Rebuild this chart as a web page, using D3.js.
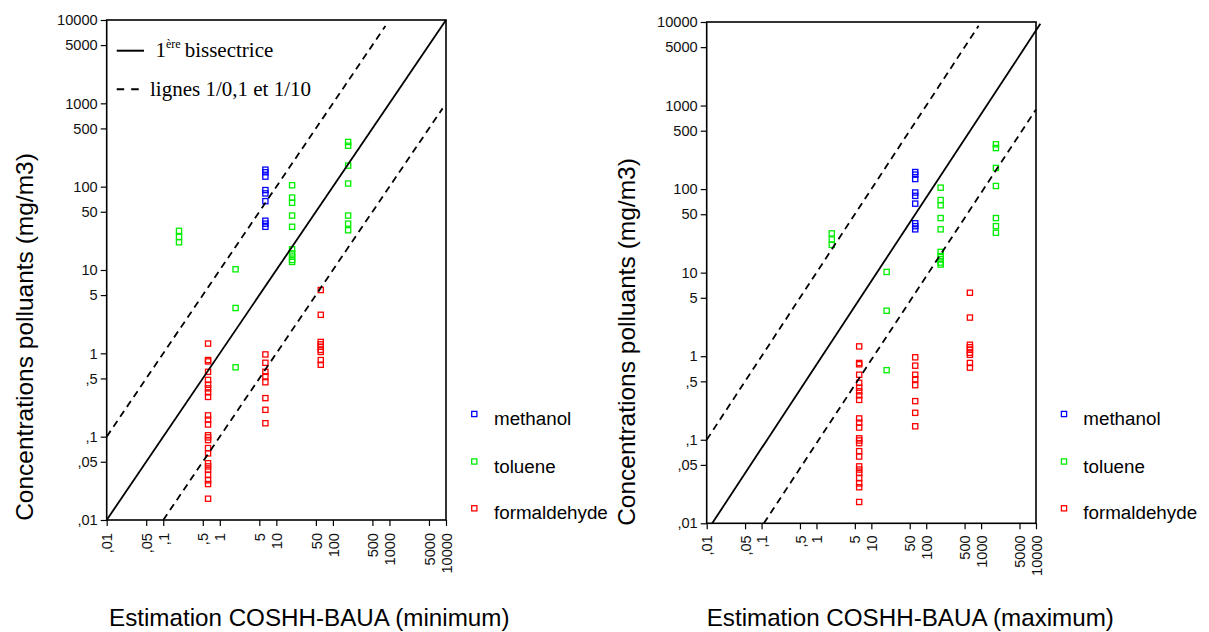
<!DOCTYPE html>
<html><head><meta charset="utf-8">
<script src="https://cdn.jsdelivr.net/npm/d3@7"></script>
<style>
html,body{margin:0;padding:0;background:#fff;}
svg{display:block;}
</style></head>
<body>
<svg id="chart" width="1209" height="632"></svg>
<script>
// ---- data ----
const seriesNames = ["methanol", "toluene", "formaldehyde"];
const seriesColors = ["#0000ff", "#00ee00", "#ff0000"];
// x positions of the estimation groups
const groupXMin = [0.19, 0.62, 1.9, 6.4, 19, 61, 186];
const groupXMax = [1.9, 6.0, 19, 63, 183, 625, 1860];

const methanolG = [3, 3, 3, 3, 3, 3, 3, 3, 3];
const methanolY = [160, 149, 132, 91, 83, 67, 39, 36, 33];

const tolueneG = [0, 0, 0, 2, 2, 2, 4, 4, 4, 4, 4, 4, 4, 4, 4, 4, 6, 6, 6, 6, 6, 6, 6];
const tolueneY = [29.5, 25, 21.5, 10.2, 3.5, 0.68, 104, 74, 64, 45, 33, 17.7, 15.8, 14.5, 13.2, 12.5, 344, 310, 179, 109, 45, 36, 30];

const formaldehydeG = [1, 1, 1, 1, 1, 1, 1, 1, 1, 1, 1, 1, 1, 1, 1, 1, 1, 1, 1, 1, 1, 1, 1, 1,
                       3, 3, 3, 3, 3, 3, 3, 3,
                       5, 5, 5, 5, 5, 5, 5, 5, 5];
const formaldehydeY = [1.31, 0.83, 0.80, 0.60, 0.48, 0.42, 0.38, 0.34, 0.30, 0.18, 0.16, 0.14, 0.104, 0.098, 0.091, 0.073, 0.063, 0.048, 0.044, 0.040, 0.035, 0.030, 0.027, 0.018,
                       0.97, 0.77, 0.60, 0.53, 0.45, 0.29, 0.21, 0.145,
                       5.75, 2.9, 1.37, 1.28, 1.20, 1.10, 1.04, 0.83, 0.73];

const tickValues = [0.01, 0.05, 0.1, 0.5, 1, 5, 10, 50, 100, 500, 1000, 5000, 10000];
const tickLabels = [",01", ",05", ",1", ",5", "1", "5", "10", "50", "100", "500", "1000", "5000", "10000"];

// reference lines (bisector, upper 1/0,1, lower 1/10)
const linesMin = {
  bisector: [[0.01, 0.01], [10000, 10000]],
  upper: [[0.01, 0.1], [850, 8500]],
  lower: [[0.1, 0.01], [8700, 870]]
};
const linesMax = {
  bisector: [[0.0126, 0.01], [12000, 9500]],
  upper: [[0.01, 0.1], [900, 9000]],
  lower: [[0.11, 0.01], [10000, 900]]
};

const xTitles = ["Estimation COSHH-BAUA (minimum)", "Estimation COSHH-BAUA (maximum)"];
const yTitle = "Concentrations polluants (mg/m3)";
const legendLineLabels = ["bissectrice", "lignes 1/0,1 et 1/10"];

// ---- drawing ----
const svg = d3.select("#chart");
const SANS = "'Liberation Sans', Arial, Helvetica, sans-serif";
const SERIF = "'Liberation Serif', 'Times New Roman', serif";

const panels = [
  {x0: 106.7, x1: 446, y0: 20, y1: 520, groups: groupXMin, lines: linesMin, xTitle: xTitles[0],
   xTitlePos: [109, 626], yTitlePos: [33.3, 337], legendX: 474.3, legendTextX: 494, lineLegend: true, xLabOff: 13},
  {x0: 706.7, x1: 1036, y0: 22, y1: 523.3, groups: groupXMax, lines: linesMax, xTitle: xTitles[1],
   xTitlePos: [706.7, 626], yTitlePos: [635, 342], legendX: 1064, legendTextX: 1083.3, lineLegend: false, xLabOff: 12}
];

const seriesData = [
  {G: methanolG, Y: methanolY},
  {G: tolueneG, Y: tolueneY},
  {G: formaldehydeG, Y: formaldehydeY}
];

panels.forEach(p => {
  const x = d3.scaleLog().domain([0.01, 10000]).range([p.x0, p.x1]);
  const y = d3.scaleLog().domain([0.01, 10000]).range([p.y1, p.y0]);
  const g = svg.append("g");

  // points
  seriesData.forEach((s, si) => {
    const pts = s.Y.map((v, i) => ({x: p.groups[s.G[i]], y: v}));
    g.append("g").selectAll("rect").data(pts).join("rect")
      .attr("x", d => x(d.x) - 2.6).attr("y", d => y(d.y) - 2.6)
      .attr("width", 5.2).attr("height", 5.2)
      .attr("fill", "none").attr("stroke", seriesColors[si]).attr("stroke-width", 1.3);
  });

  // reference lines
  const line = d3.line().x(d => x(d[0])).y(d => y(d[1]));
  g.append("path").attr("d", line(p.lines.bisector)).attr("fill", "none")
    .attr("stroke", "#000").attr("stroke-width", 1.8);
  ["upper", "lower"].forEach(k => {
    g.append("path").attr("d", line(p.lines[k])).attr("fill", "none")
      .attr("stroke", "#000").attr("stroke-width", 1.8).attr("stroke-dasharray", "7,5");
  });

  // frame
  g.append("rect").attr("x", p.x0).attr("y", p.y0)
    .attr("width", p.x1 - p.x0).attr("height", p.y1 - p.y0)
    .attr("fill", "none").attr("stroke", "#000").attr("stroke-width", 1.6);

  // y axis
  const ya = g.append("g").attr("transform", `translate(${p.x0},0)`)
    .call(d3.axisLeft(y).tickValues(tickValues).tickFormat((d, i) => tickLabels[i]).tickSize(6).tickPadding(3));
  ya.select(".domain").remove();
  ya.selectAll("line").attr("stroke", "#000").attr("stroke-width", 1.2);
  ya.selectAll("text").attr("font-family", SANS).attr("font-size", "14.6px").attr("fill", "#111");

  // x axis
  const xa = g.append("g").attr("transform", `translate(0,${p.y1})`)
    .call(d3.axisBottom(x).tickValues(tickValues).tickFormat((d, i) => tickLabels[i]).tickSize(6));
  xa.select(".domain").remove();
  xa.selectAll("line").attr("stroke", "#000").attr("stroke-width", 1.2);
  xa.selectAll("text")
    .attr("font-family", SANS).attr("font-size", "14.6px").attr("fill", "#111")
    .attr("transform", "rotate(-90)")
    .attr("text-anchor", "end")
    .attr("x", -p.xLabOff).attr("y", 0).attr("dy", "0.35em");

  // titles
  g.append("text").attr("x", p.xTitlePos[0]).attr("y", p.xTitlePos[1])
    .attr("font-family", SANS).attr("font-size", "24.2px").attr("fill", "#000")
    .text(p.xTitle);
  g.append("text")
    .attr("transform", `translate(${p.yTitlePos[0]},${p.yTitlePos[1]}) rotate(-90)`)
    .attr("text-anchor", "middle")
    .attr("font-family", SANS).attr("font-size", "24.5px").attr("fill", "#000")
    .text(yTitle);

  // series legend
  const ly = [414, 461.5, 508.3];
  seriesNames.forEach((n, i) => {
    g.append("rect").attr("x", p.legendX - 2.6).attr("y", ly[i] - 2.6)
      .attr("width", 5.2).attr("height", 5.2).attr("fill", "none")
      .attr("stroke", seriesColors[i]).attr("stroke-width", 1.3);
    g.append("text").attr("x", p.legendTextX).attr("y", ly[i] + 11)
      .attr("font-family", SANS).attr("font-size", "18.8px").attr("fill", "#000")
      .text(n);
  });

  // line legend (left panel only)
  if (p.lineLegend) {
    g.append("line").attr("x1", 116.7).attr("x2", 144).attr("y1", 50.7).attr("y2", 50.7)
      .attr("stroke", "#000").attr("stroke-width", 2);
    const t1 = g.append("text").attr("x", 155.5).attr("y", 57.3)
      .attr("font-family", SERIF).attr("font-size", "21px").attr("fill", "#000");
    t1.append("tspan").text("1");
    t1.append("tspan").attr("font-size", "12px").attr("dy", "-9").text("ère");
    t1.append("tspan").attr("dy", "9").attr("dx", "4").text(legendLineLabels[0]);

    g.append("line").attr("x1", 116.7).attr("x2", 140).attr("y1", 89.3).attr("y2", 89.3)
      .attr("stroke", "#000").attr("stroke-width", 2).attr("stroke-dasharray", "7.5,7");
    g.append("text").attr("x", 150).attr("y", 95.5)
      .attr("font-family", SERIF).attr("font-size", "21px").attr("fill", "#000")
      .text(legendLineLabels[1]);
  }
});
</script>
</body></html>
